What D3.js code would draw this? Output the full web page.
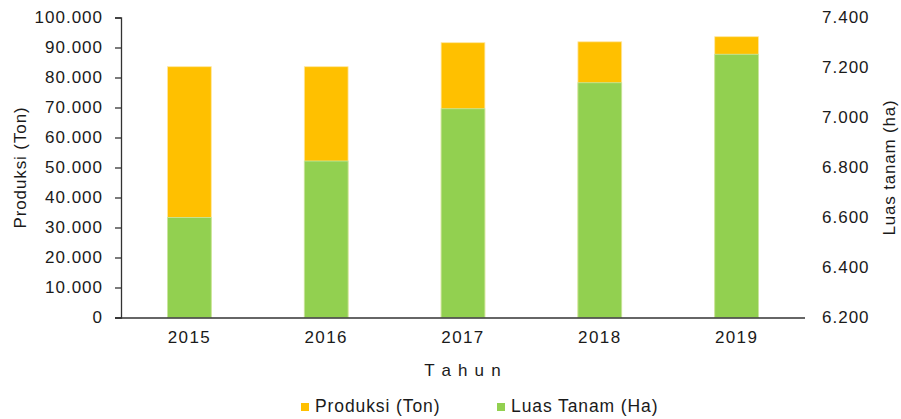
<!DOCTYPE html>
<html>
<head>
<meta charset="utf-8">
<script src="https://cdn.jsdelivr.net/npm/d3@7"></script>
<style>
  body { margin: 0; background: #fff; }
  text { font-family: "Liberation Sans", Arial, Helvetica, sans-serif; fill: #1a1a1a; }
</style>
</head>
<body>
<div id="chart"></div>
<script>
const years = ["2015", "2016", "2017", "2018", "2019"];
const produksi = [83600, 83600, 91600, 91900, 93600];   // Ton, left axis
const luasTanam = [6600, 6826, 7035, 7139, 7253];       // Ha, right axis
const leftTicks = [0, 10000, 20000, 30000, 40000, 50000, 60000, 70000, 80000, 90000, 100000];
const rightTicks = [6200, 6400, 6600, 6800, 7000, 7200, 7400];

const W = 901, H = 419;
const margin = {top: 17.5, right: 96, bottom: 101.5, left: 121};
const chartWidth = W - margin.left - margin.right,
      chartHeight = H - margin.top - margin.bottom;

const fmt = d3.format(",.0f");
const idFormat = v => fmt(v).replace(/,/g, ".");

const svg = d3.select("#chart").append("svg")
    .attr("width", W)
    .attr("height", H);
const g = svg.append("g")
    .attr("transform", `translate(${margin.left},${margin.top})`);

const x = d3.scaleBand().domain(years).range([0, chartWidth]).paddingInner(0.68).paddingOuter(0.34);
const yLeft = d3.scaleLinear().domain([0, 100000]).range([chartHeight, 0]);
const yRight = d3.scaleLinear().domain([6200, 7400]).range([chartHeight, 0]);

// bars: produksi behind, luas tanam in front
g.selectAll(".bar-prod")
  .data(years)
  .enter().append("rect")
  .attr("class", "bar-prod")
  .attr("x", d => x(d))
  .attr("width", x.bandwidth())
  .attr("y", (d, i) => yLeft(produksi[i]))
  .attr("height", (d, i) => chartHeight - yLeft(produksi[i]))
  .attr("fill", "#FFC000")
  .attr("stroke", "#ffe7a0").attr("stroke-width", 0.8);

g.selectAll(".bar-luas")
  .data(years)
  .enter().append("rect")
  .attr("class", "bar-luas")
  .attr("x", d => x(d))
  .attr("width", x.bandwidth())
  .attr("y", (d, i) => yRight(luasTanam[i]))
  .attr("height", (d, i) => chartHeight - yRight(luasTanam[i]))
  .attr("fill", "#92D050")
  .attr("stroke", "#c9e8a8").attr("stroke-width", 0.8);

// left axis
const axL = g.append("g")
  .call(d3.axisLeft(yLeft).tickValues(leftTicks).tickFormat(idFormat).tickSize(6).tickPadding(12));
axL.select(".domain").attr("stroke", "#333").attr("stroke-width", 1.3);
axL.selectAll(".tick line").attr("stroke", "#333").attr("stroke-width", 1.3);
axL.selectAll("text").style("font-size", "17px").style("letter-spacing", "1px").attr("fill", "#1a1a1a");

// right axis (labels only)
const axR = g.append("g")
  .attr("transform", `translate(${chartWidth},0)`)
  .call(d3.axisRight(yRight).tickValues(rightTicks).tickFormat(idFormat).tickSize(0).tickPadding(17));
axR.select(".domain").remove();
axR.selectAll("text").style("font-size", "17px").style("letter-spacing", "1px").attr("fill", "#1a1a1a");

// x axis
const axX = g.append("g")
  .attr("transform", `translate(0,${chartHeight})`)
  .call(d3.axisBottom(x).tickSize(0).tickPadding(13));
axX.select(".domain").attr("stroke", "#333").attr("stroke-width", 1.3).attr("d", `M-6,0.5H${chartWidth}`);
axX.selectAll("text").style("font-size", "17px").style("letter-spacing", "1.4px").attr("fill", "#1a1a1a");

// axis titles
svg.append("text")
  .attr("x", margin.left + chartWidth / 2).attr("y", 376)
  .attr("text-anchor", "middle")
  .style("font-size", "17px").style("letter-spacing", "1.2px")
  .text("T a h u n");

svg.append("text")
  .attr("transform", `translate(26,${margin.top + chartHeight / 2}) rotate(-90)`)
  .attr("text-anchor", "middle")
  .style("font-size", "17px").style("letter-spacing", "0.9px")
  .text("Produksi (Ton)");

svg.append("text")
  .attr("transform", `translate(895,${margin.top + chartHeight / 2}) rotate(-90)`)
  .attr("text-anchor", "middle")
  .style("font-size", "17px").style("letter-spacing", "0.8px")
  .text("Luas tanam (ha)");

// legend
const legendItems = [
  {label: "Produksi (Ton)", color: "#FFC000", x: 301},
  {label: "Luas Tanam (Ha)", color: "#92D050", x: 497}
];
const legend = svg.append("g");
const li = legend.selectAll("g").data(legendItems).enter().append("g")
  .attr("transform", d => `translate(${d.x},403)`);
li.append("rect").attr("width", 8).attr("height", 8).attr("fill", d => d.color);
li.append("text").attr("x", 14).attr("y", 8.5)
  .style("font-size", "17.5px").style("letter-spacing", "0.9px")
  .text(d => d.label);
</script>
</body>
</html>
